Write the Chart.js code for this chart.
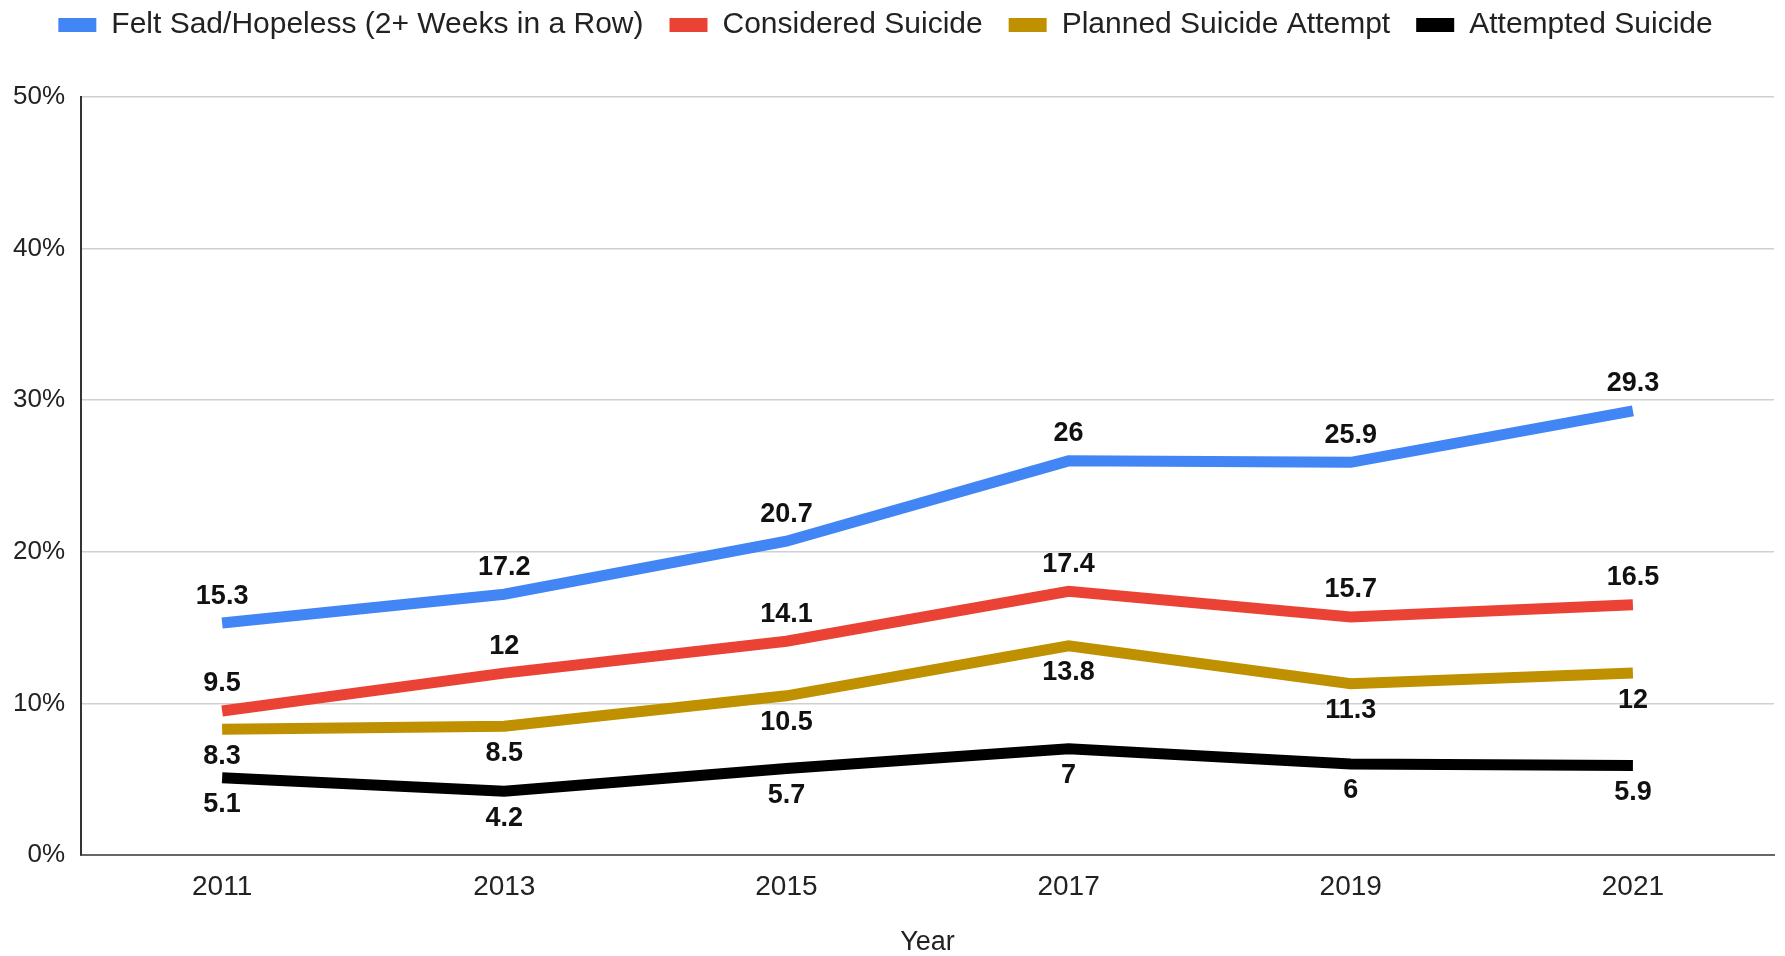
<!DOCTYPE html>
<html>
<head>
<meta charset="utf-8">
<script src="https://cdn.jsdelivr.net/npm/chart.js@4/dist/chart.umd.min.js"></script>
<style>
  html, body { margin: 0; padding: 0; background: #fff; }
  #wrap { width: 1785px; height: 956px; }
</style>
</head>
<body>
<div id="wrap"><canvas id="chart"></canvas></div>
<script>
const years = ["2011", "2013", "2015", "2017", "2019", "2021"];
const sadHopeless = [15.3, 17.2, 20.7, 26, 25.9, 29.3];
const consideredSuicide = [9.5, 12, 14.1, 17.4, 15.7, 16.5];
const plannedAttempt = [8.3, 8.5, 10.5, 13.8, 11.3, 12];
const attemptedSuicide = [5.1, 4.2, 5.7, 7, 6, 5.9];
const yTicks = [0, 10, 20, 30, 40, 50];

const fontFamily = "'Liberation Sans', Arial, sans-serif";

// value labels above or below each point
const pointLabels = {
    id: "pointLabels",
    afterDatasetsDraw(chart) {
        const ctx = chart.ctx;
        ctx.save();
        ctx.font = "bold 27px " + fontFamily;
        ctx.fillStyle = "#111";
        ctx.textAlign = "center";
        ctx.textBaseline = "middle";
        chart.data.datasets.forEach((ds, i) => {
            const meta = chart.getDatasetMeta(i);
            meta.data.forEach((pt, j) => {
                const off = ds.labelPos === "below" ? 27 : -27;
                ctx.fillText(String(ds.data[j]), pt.x, pt.y + off);
            });
        });
        ctx.restore();
    },
};

// extra gap under the legend
const legendGap = {
    id: "legendGap",
    beforeInit(chart) {
        const fit = chart.legend.fit;
        chart.legend.fit = function () {
            fit.bind(chart.legend)();
            this.height += 47;
        };
    },
};

new Chart(document.getElementById("chart"), {
    type: "line",
    data: {
        labels: years,
        datasets: [
            {
                label: "Felt Sad/Hopeless (2+ Weeks in a Row)",
                data: sadHopeless,
                borderColor: "#4285F4",
                backgroundColor: "#4285F4",
                labelPos: "above",
            },
            {
                label: "Considered Suicide",
                data: consideredSuicide,
                borderColor: "#EA4335",
                backgroundColor: "#EA4335",
                labelPos: "above",
            },
            {
                label: "Planned Suicide Attempt",
                data: plannedAttempt,
                borderColor: "#BF9000",
                backgroundColor: "#BF9000",
                labelPos: "below",
            },
            {
                label: "Attempted Suicide",
                data: attemptedSuicide,
                borderColor: "#000000",
                backgroundColor: "#000000",
                labelPos: "below",
            },
        ],
    },
    options: {
        responsive: true,
        maintainAspectRatio: false,
        animation: false,
        layout: { padding: { left: -3, right: 11, top: -16, bottom: 0 } },
        elements: {
            line: { borderWidth: 11, tension: 0, borderJoinStyle: "miter" },
            point: { radius: 0, hoverRadius: 0 },
        },
        plugins: {
            legend: {
                position: "top",
                labels: {
                    color: "#222",
                    font: { size: 30, family: fontFamily },
                    boxWidth: 38,
                    boxHeight: 14,
                    padding: 26,
                    generateLabels: (chart) =>
                        Chart.defaults.plugins.legend.labels
                            .generateLabels(chart)
                            .map((l) => ({ ...l, lineWidth: 0 })),
                },
            },
            tooltip: { enabled: false },
        },
        scales: {
            x: {
                offset: true,
                grid: { display: false, drawTicks: false },
                border: { color: "#666", width: 2 },
                ticks: {
                    color: "#222",
                    font: { size: 28, family: fontFamily, lineHeight: 1 },
                    padding: 18,
                },
                title: {
                    display: true,
                    text: "Year",
                    color: "#222",
                    font: { size: 27, family: fontFamily, lineHeight: 1 },
                    padding: { top: 10, bottom: 0 },
                },
            },
            y: {
                min: 0,
                max: 50,
                afterBuildTicks: (axis) => {
                    axis.ticks = yTicks.map((v) => ({ value: v }));
                },
                grid: { color: "#d0d0d0", lineWidth: 1.5, drawTicks: false },
                border: { color: "#333", width: 2 },
                ticks: {
                    color: "#222",
                    font: { size: 26, family: fontFamily },
                    padding: 16,
                    callback: (v) => v + "%",
                },
            },
        },
    },
    plugins: [pointLabels, legendGap],
});
</script>
</body>
</html>
